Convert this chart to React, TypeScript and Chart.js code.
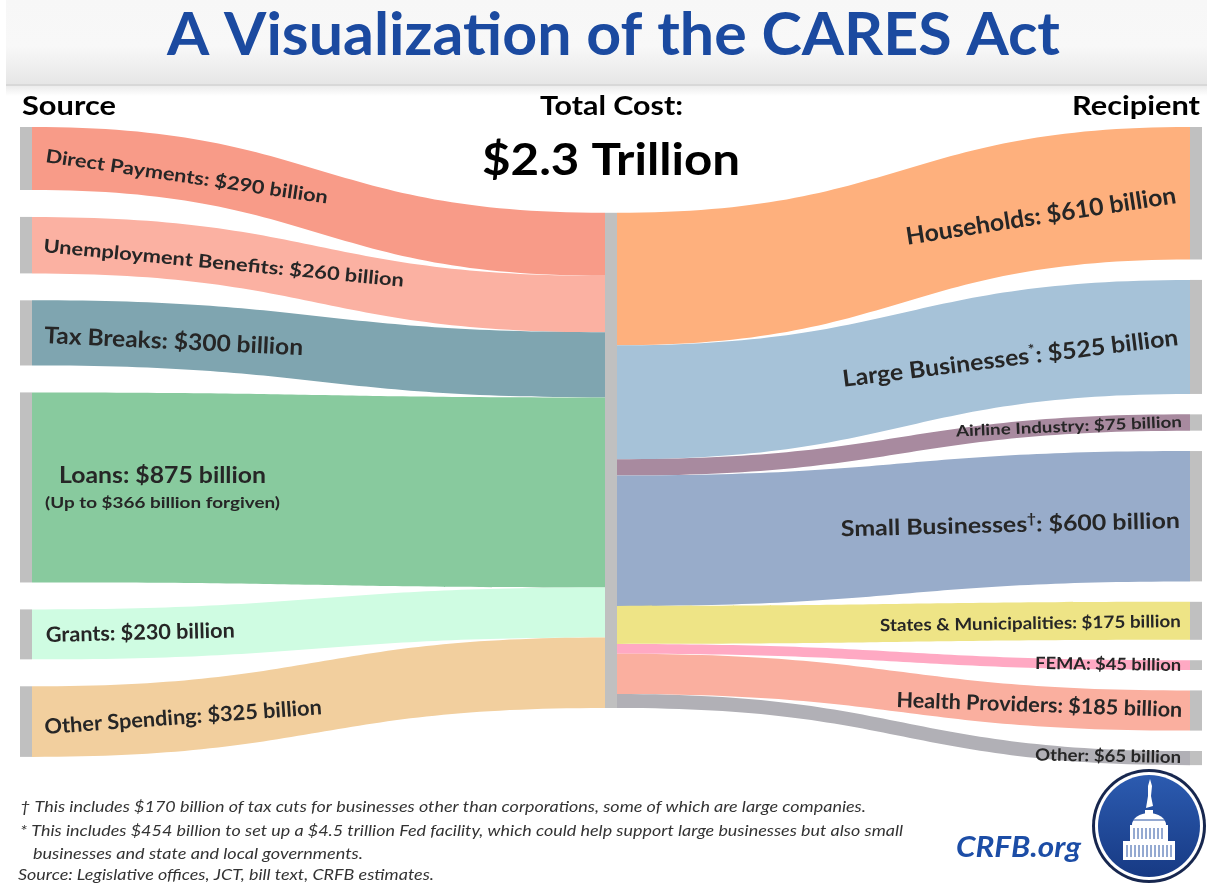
import React, { useEffect, useRef } from "react";
import { Chart, registerables } from "chart.js";

Chart.register(...registerables);

// ---------------- data ----------------
const TITLE = "A Visualization of the CARES Act";
const SOURCE_HEADER = "Source";
const TOTAL_HEADER = "Total Cost:";
const TOTAL_VALUE = "$2.3 Trillion";
const RECIPIENT_HEADER = "Recipient";

const SOURCES = ["Direct Payments", "Unemployment Benefits", "Tax Breaks", "Loans", "Grants", "Other Spending"];
const SOURCE_VALUES = [290, 260, 300, 875, 230, 325];
const LOANS_NOTE = "(Up to $366 billion forgiven)";

const RECIPIENTS = [
  "Households",
  "Large Businesses",
  "Airline Industry",
  "Small Businesses",
  "States & Municipalities",
  "FEMA",
  "Health Providers",
  "Other",
];
const RECIPIENT_VALUES = [610, 525, 75, 600, 175, 45, 185, 65];
const RECIPIENT_MARKS = ["", "*", "", "\u2020", "", "", "", ""];

const FOOTNOTES = [
  "\u2020 This includes $170 billion of tax cuts for businesses other than corporations, some of which are large companies.",
  "* This includes $454 billion to set up a $4.5 trillion Fed facility, which could help support large businesses but also small",
  "businesses and state and local governments.",
  "Source: Legislative offices, JCT, bill text, CRFB estimates.",
];
const BRAND = "CRFB.org";

// ---------------- styles ----------------
const SOURCE_COLORS = ["#F89B88", "#FBB1A2", "#7FA5B0", "#88CA9E", "#CFFCE2", "#F2CF9E"];
const RECIPIENT_COLORS = ["#FEB07D", "#A6C2D8", "#A88A9F", "#98ACCA", "#EEE486", "#FFA9C3", "#FAAF9F", "#B1B0B6"];
const NODE_COLOR = "#C0C0C0";
const LABEL_COLOR = "#262626";
const BLUE = "#1B4AA0";
const FONT = "Lato, 'Open Sans', sans-serif";

// ---------------- layout ----------------
const W = 1207;
const H = 884;
const PLOT_TOP = 127;
const PX_PER_UNIT = 0.2172;
const Y_MAX = 2940;
const NODE_W = 12;
const SOURCE_GAP = 124;
const RECIPIENT_GAP = 94;
const MID_OFFSET = 395;

// label anchors: left labels anchor at start baseline; right labels at end baseline
const SOURCE_LABEL_LAYOUT = [
  { x: 45, y: 162, angle: 8.4, size: 18.5, width: 285 },
  { x: 43, y: 252, angle: 5.5, size: 18.5, width: 362 },
  { x: 44, y: 343, angle: 2.7, size: 23, width: 259 },
  { x: 59, y: 483, angle: 0, size: 23, width: 207 },
  { x: 46, y: 642, angle: -1.4, size: 21, width: 189 },
  { x: 45, y: 734, angle: -4.1, size: 21, width: 278 },
];
const LOANS_NOTE_LAYOUT = { x: 45, y: 508, angle: 0, size: 16, width: 235 };
const RECIPIENT_LABEL_LAYOUT = [
  { x: 1177, y: 203, angle: -8.8, size: 24, width: 273 },
  { x: 1179, y: 345, angle: -7.1, size: 23, width: 338 },
  { x: 1182, y: 427, angle: -2.4, size: 15.5, width: 226 },
  { x: 1180, y: 528, angle: -1.4, size: 22, width: 339 },
  { x: 1181, y: 627, angle: -0.8, size: 17, width: 301 },
  { x: 1181, y: 671, angle: 0.8, size: 17, width: 146 },
  { x: 1182, y: 717, angle: 2, size: 21, width: 286 },
  { x: 1181, y: 763, angle: 1, size: 17, width: 146 },
];
const FOOTNOTE_LAYOUT = [
  { x: 20, y: 812, width: 846 },
  { x: 20, y: 836, width: 883 },
  { x: 33, y: 859, width: 330 },
  { x: 18, y: 880, width: 416 },
];

type Seg = { t: string; sup?: boolean };

function drawText(
  ctx: CanvasRenderingContext2D,
  segs: Seg[],
  x: number,
  y: number,
  opts: {
    angle?: number;
    size: number;
    width?: number;
    align?: "left" | "center" | "right";
    color?: string;
    weight?: string;
    style?: string;
  }
) {
  const { angle = 0, size, width, align = "left", color = LABEL_COLOR, weight = "bold", style = "normal" } = opts;
  const fontFor = (s: Seg) => `${style} ${weight} ${s.sup ? size * 0.62 : size}px ${FONT}`;
  ctx.save();
  ctx.translate(x, y);
  ctx.rotate((angle * Math.PI) / 180);
  ctx.textAlign = "left";
  ctx.textBaseline = "alphabetic";
  let total = 0;
  const widths: number[] = [];
  for (const s of segs) {
    ctx.font = fontFor(s);
    const w = ctx.measureText(s.t).width;
    widths.push(w);
    total += w;
  }
  const sx = width ? width / total : 1;
  ctx.scale(sx, 1);
  let cx = align === "left" ? 0 : align === "center" ? -total / 2 : -total;
  ctx.fillStyle = color;
  segs.forEach((s, i) => {
    ctx.font = fontFor(s);
    ctx.fillText(s.t, cx, s.sup ? -size * 0.38 : 0);
    cx += widths[i];
  });
  ctx.restore();
}

function band(
  ctx: CanvasRenderingContext2D,
  x0: number,
  y0a: number,
  y0b: number,
  x1: number,
  y1a: number,
  y1b: number,
  color: string
) {
  const xm = (x0 + x1) / 2;
  ctx.beginPath();
  ctx.moveTo(x0, y0a);
  ctx.bezierCurveTo(xm, y0a, xm, y1a, x1, y1a);
  ctx.lineTo(x1, y1b);
  ctx.bezierCurveTo(xm, y1b, xm, y0b, x0, y0b);
  ctx.closePath();
  ctx.fillStyle = color;
  ctx.fill();
}

function stack(values: number[], gap: number, offset: number): [number, number][] {
  const out: [number, number][] = [];
  let y = offset;
  for (const v of values) {
    out.push([y, y + v]);
    y += v + gap;
  }
  return out;
}

function drawLogo(ctx: CanvasRenderingContext2D, cx: number, cy: number) {
  ctx.save();
  ctx.beginPath();
  ctx.arc(cx, cy, 57, 0, Math.PI * 2);
  ctx.fillStyle = "#17274F";
  ctx.fill();
  ctx.beginPath();
  ctx.arc(cx, cy, 54, 0, Math.PI * 2);
  ctx.fillStyle = "#FFFFFF";
  ctx.fill();
  const g = ctx.createLinearGradient(0, cy - 51, 0, cy + 51);
  g.addColorStop(0, "#2C5BB0");
  g.addColorStop(1, "#173A84");
  ctx.beginPath();
  ctx.arc(cx, cy, 51, 0, Math.PI * 2);
  ctx.fillStyle = g;
  ctx.fill();
  ctx.fillStyle = "#FFFFFF";
  ctx.strokeStyle = "#FFFFFF";
  // statue
  ctx.beginPath();
  ctx.moveTo(cx + 1, cy - 47);
  ctx.lineTo(cx + 3, cy - 40);
  ctx.lineTo(cx + 2, cy - 30);
  ctx.lineTo(cx + 4, cy - 20);
  ctx.lineTo(cx - 3, cy - 18);
  ctx.lineTo(cx - 1, cy - 30);
  ctx.lineTo(cx - 1, cy - 40);
  ctx.closePath();
  ctx.fill();
  // lantern
  ctx.fillRect(cx - 4, cy - 16, 8, 6);
  // dome
  ctx.beginPath();
  ctx.ellipse(cx, cy - 1, 17, 12, 0, Math.PI, 0);
  ctx.closePath();
  ctx.fill();
  // drum
  ctx.fillRect(cx - 19, cy - 1, 38, 16);
  // base
  ctx.fillRect(cx - 26, cy + 15, 52, 19);
  ctx.strokeStyle = "#2A55A3";
  ctx.lineWidth = 1;
  for (let i = -15; i <= 15; i += 4) {
    ctx.beginPath();
    ctx.moveTo(cx + i, cy + 2);
    ctx.lineTo(cx + i, cy + 13);
    ctx.stroke();
  }
  for (let i = -22; i <= 22; i += 4) {
    ctx.beginPath();
    ctx.moveTo(cx + i, cy + 19);
    ctx.lineTo(cx + i, cy + 31);
    ctx.stroke();
  }
  ctx.beginPath();
  ctx.moveTo(cx - 17, cy - 6);
  ctx.lineTo(cx + 17, cy - 6);
  ctx.stroke();
  ctx.restore();
}

const sankeyPlugin = {
  id: "caresSankey",
  beforeDraw(chart: any) {
    const ctx: CanvasRenderingContext2D = chart.ctx;
    ctx.save();
    ctx.fillStyle = "#FFFFFF";
    ctx.fillRect(0, 0, chart.width, chart.height);
    // header band
    const g = ctx.createLinearGradient(0, 0, 0, 84);
    g.addColorStop(0, "#F7F7F7");
    g.addColorStop(0.55, "#F8F8F8");
    g.addColorStop(1, "#E6E6E6");
    ctx.fillStyle = g;
    ctx.fillRect(6, 0, chart.width - 6, 84);
    ctx.fillStyle = "#D8D8D8";
    ctx.fillRect(6, 84, chart.width - 6, 2);
    const s = ctx.createLinearGradient(0, 86, 0, 96);
    s.addColorStop(0, "#ECECEC");
    s.addColorStop(1, "#FFFFFF");
    ctx.fillStyle = s;
    ctx.fillRect(6, 86, chart.width - 6, 10);
    ctx.restore();
  },
  afterDraw(chart: any) {
    const ctx: CanvasRenderingContext2D = chart.ctx;
    const xs = chart.scales.x;
    const ys = chart.scales.y;
    const px = (v: number) => xs.getPixelForValue(v);
    const py = (v: number) => ys.getPixelForValue(v);

    const total = SOURCE_VALUES.reduce((a, b) => a + b, 0);
    const srcNodes = stack(SOURCE_VALUES, SOURCE_GAP, 0);
    const srcMid = stack(SOURCE_VALUES, 0, MID_OFFSET);
    const recNodes = stack(RECIPIENT_VALUES, RECIPIENT_GAP, 0);
    const recMid = stack(RECIPIENT_VALUES, 0, MID_OFFSET);

    const xL = px(0) + NODE_W;
    const xMl = px(1) - NODE_W / 2;
    const xMr = px(1) + NODE_W / 2;
    const xR = px(2) - NODE_W;

    ctx.save();
    srcNodes.forEach((n, i) => {
      band(ctx, xL, py(n[0]), py(n[1]), xMl, py(srcMid[i][0]), py(srcMid[i][1]), SOURCE_COLORS[i]);
    });
    recNodes.forEach((n, i) => {
      band(ctx, xMr, py(recMid[i][0]), py(recMid[i][1]), xR, py(n[0]), py(n[1]), RECIPIENT_COLORS[i]);
    });

    // nodes
    ctx.fillStyle = NODE_COLOR;
    srcNodes.forEach((n) => ctx.fillRect(px(0), py(n[0]), NODE_W, py(n[1]) - py(n[0])));
    ctx.fillRect(xMl, py(MID_OFFSET), NODE_W, py(MID_OFFSET + total) - py(MID_OFFSET));
    recNodes.forEach((n) => ctx.fillRect(xR, py(n[0]), NODE_W, py(n[1]) - py(n[0])));

    // flow labels
    SOURCES.forEach((name, i) => {
      const l = SOURCE_LABEL_LAYOUT[i];
      drawText(ctx, [{ t: `${name}: $${SOURCE_VALUES[i]} billion` }], l.x, l.y, {
        angle: l.angle,
        size: l.size,
        width: l.width,
        align: "left",
      });
    });
    drawText(ctx, [{ t: LOANS_NOTE }], LOANS_NOTE_LAYOUT.x, LOANS_NOTE_LAYOUT.y, {
      size: LOANS_NOTE_LAYOUT.size,
      width: LOANS_NOTE_LAYOUT.width,
    });
    RECIPIENTS.forEach((name, i) => {
      const l = RECIPIENT_LABEL_LAYOUT[i];
      const segs: Seg[] = [{ t: name }];
      if (RECIPIENT_MARKS[i]) segs.push({ t: RECIPIENT_MARKS[i], sup: true });
      segs.push({ t: `: $${RECIPIENT_VALUES[i]} billion` });
      drawText(ctx, segs, l.x, l.y, { angle: l.angle, size: l.size, width: l.width, align: "right" });
    });

    // headers
    drawText(ctx, [{ t: TITLE }], 613.5, 55, { size: 60, width: 893, align: "center", color: BLUE });
    drawText(ctx, [{ t: SOURCE_HEADER }], 22, 115, { size: 26, width: 94, color: "#000" });
    drawText(ctx, [{ t: TOTAL_HEADER }], 611.5, 115, { size: 27, width: 143, align: "center", color: "#000" });
    drawText(ctx, [{ t: RECIPIENT_HEADER }], 1200, 115, { size: 27, width: 128, align: "right", color: "#000" });
    drawText(ctx, [{ t: TOTAL_VALUE }], 611, 175, { size: 44, width: 258, align: "center", color: "#000" });

    // footnotes
    FOOTNOTES.forEach((t, i) => {
      const l = FOOTNOTE_LAYOUT[i];
      drawText(ctx, [{ t }], l.x, l.y, { size: 15, width: l.width, weight: "normal", style: "italic", color: "#333333" });
    });
    drawText(ctx, [{ t: BRAND }], 956, 857, { size: 28, width: 125, style: "italic", color: "#1C4DA6" });
    drawLogo(ctx, 1149, 826);
    ctx.restore();
  },
};

export default function App() {
  const ref = useRef<HTMLCanvasElement>(null);
  useEffect(() => {
    const canvas = ref.current!;
    const plotH = Y_MAX * PX_PER_UNIT;
    const chart = new Chart(canvas, {
      type: "scatter",
      data: { datasets: [] },
      options: {
        animation: false,
        responsive: false,
        maintainAspectRatio: false,
        devicePixelRatio: 1,
        layout: { padding: { left: 20, right: W - 1202, top: PLOT_TOP, bottom: H - PLOT_TOP - plotH } },
        scales: {
          x: { type: "linear", min: 0, max: 2, display: false },
          y: { type: "linear", min: 0, max: Y_MAX, reverse: true, display: false },
        },
        plugins: { legend: { display: false }, tooltip: { enabled: false }, title: { display: false } },
      },
      plugins: [sankeyPlugin],
    } as any);
    let alive = true;
    const fonts = (document as any).fonts;
    if (fonts && fonts.load) {
      Promise.all([
        fonts.load(`bold 20px ${FONT}`),
        fonts.load(`italic 15px ${FONT}`),
        fonts.load(`italic bold 20px ${FONT}`),
      ])
        .then(() => {
          if (alive) chart.draw();
        })
        .catch(() => {});
    }
    return () => {
      alive = false;
      chart.destroy();
    };
  }, []);
  return (
    <div style={{ position: "absolute", left: 0, top: 0, width: W, height: H, background: "#fff", overflow: "hidden" }}>
      <canvas ref={ref} width={W} height={H} style={{ display: "block", width: W, height: H }} />
    </div>
  );
}
